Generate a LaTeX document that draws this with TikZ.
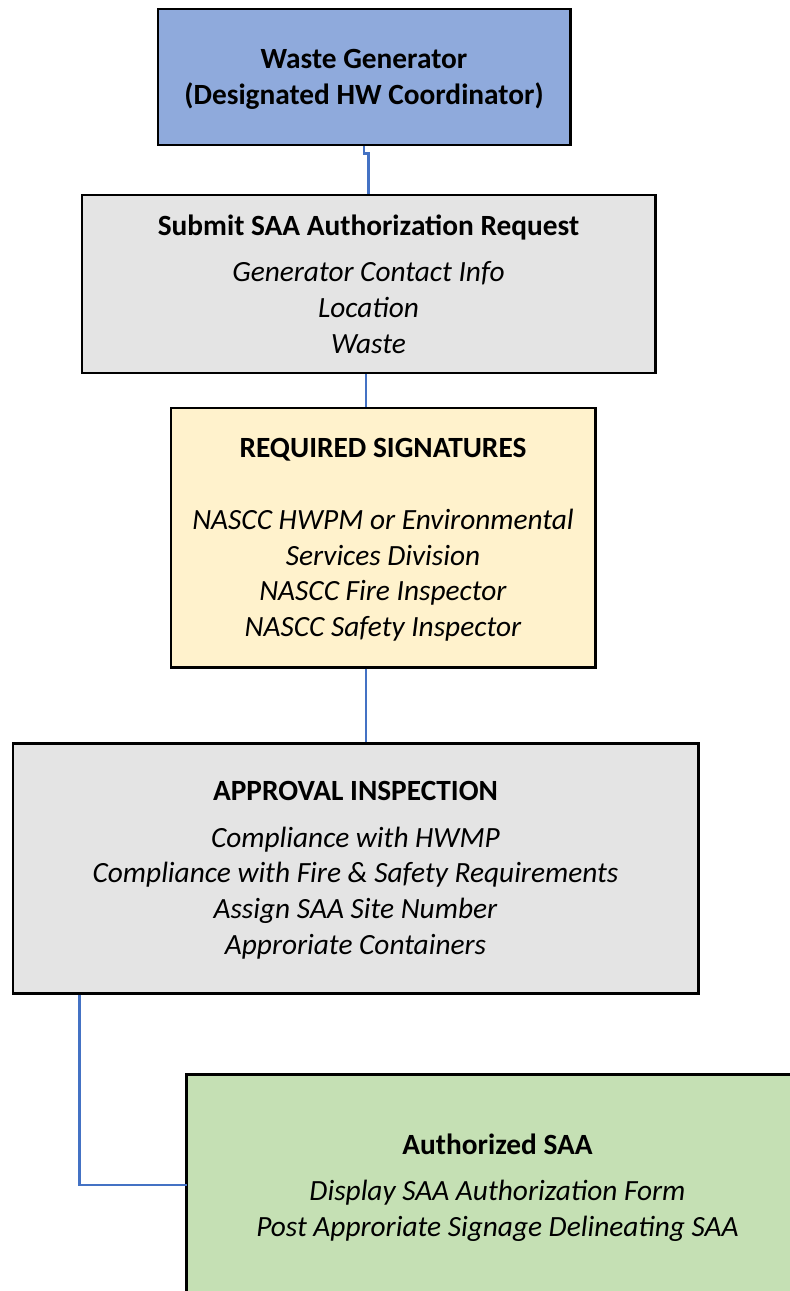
\documentclass[tikz,border=0pt]{standalone}
\usepackage{fontspec}
\setmainfont{Carlito}

\definecolor{genblue}{HTML}{8FAADC}
\definecolor{boxgrey}{HTML}{E4E4E4}
\definecolor{sigyellow}{HTML}{FFF2CC}
\definecolor{saagreen}{HTML}{C5E0B4}
\definecolor{linkblue}{HTML}{4472C4}

% last line of a box: no depth, so descenders do not lift the text
\newcommand{\nodepth}[1]{\raisebox{0pt}[\height][0pt]{#1}}

\tikzset{
  stepbox/.style={draw=black, line width=1.7pt, align=center, inner sep=0pt,
    font=\fontsize{16.7}{20.4}\selectfont},
  link/.style={draw=linkblue, line width=1.2pt}
}

\begin{document}
\begin{tikzpicture}[x=0.02cm, y=-0.02cm]
			\clip (0,0) rectangle (790,1291);

			% boxes
			\node[stepbox, fill=genblue, minimum width=412*0.02cm, minimum height=136*0.02cm] (gen) at (364,77)
				{\textbf{Waste Generator}\\ \nodepth{\textbf{(Designated HW Coordinator)}}};
			\node[stepbox, fill=boxgrey, minimum width=573*0.02cm, minimum height=178*0.02cm] (sub) at (368.5,284)
				{\textbf{Submit SAA Authorization Request}\\[6pt]
				 \textit{Generator Contact Info}\\ \textit{Location}\\ \nodepth{\textit{Waste}}};
			\node[stepbox, fill=sigyellow, minimum width=424*0.02cm, minimum height=259*0.02cm] (sig) at (383,537.5)
				{\textbf{REQUIRED SIGNATURES}\\[20.4pt]
				 \textit{NASCC HWPM or Environmental}\\ \textit{Services Division}\\
				 \textit{NASCC Fire Inspector}\\ \nodepth{\textit{NASCC Safety Inspector}}};
			\node[stepbox, fill=boxgrey, minimum width=685*0.02cm, minimum height=250*0.02cm] (app) at (355.5,868)
				{\textbf{APPROVAL INSPECTION}\\[6pt]
				 \textit{Compliance with HWMP}\\ \textit{Compliance with Fire \& Safety Requirements}\\
				 \textit{Assign SAA Site Number}\\ \nodepth{\textit{Approriate Containers}}};
			% green box runs off the page to the right and bottom
			\node[stepbox, draw=none, fill=saagreen, minimum width=619*0.02cm, minimum height=218*0.02cm] (auth) at (497.5,1185)
				{\textbf{Authorized SAA}\\[6pt]
				 \textit{Display SAA Authorization Form}\\ \nodepth{\textit{Post Approriate Signage Delineating SAA}}};
			\draw[line width=1.7pt] (auth.north east) -- (auth.north west) -- (auth.south west) -- (auth.south east);

			% connectors
			\draw[link] (gen.south) -- ++(0,7) -| (sub.north);
			\draw[link] ([xshift=-2.5*0.02cm]sub.south) -- ([xshift=-2.5*0.02cm]sub.south |- sig.north);
			\draw[link] ([xshift=-2.5*0.02cm]sub.south |- sig.south) -- ([xshift=-2.5*0.02cm]sub.south |- app.north);
			\draw[link] ([xshift=68*0.02cm]app.south west) |- (auth.west);

		\end{tikzpicture}
\end{document}
